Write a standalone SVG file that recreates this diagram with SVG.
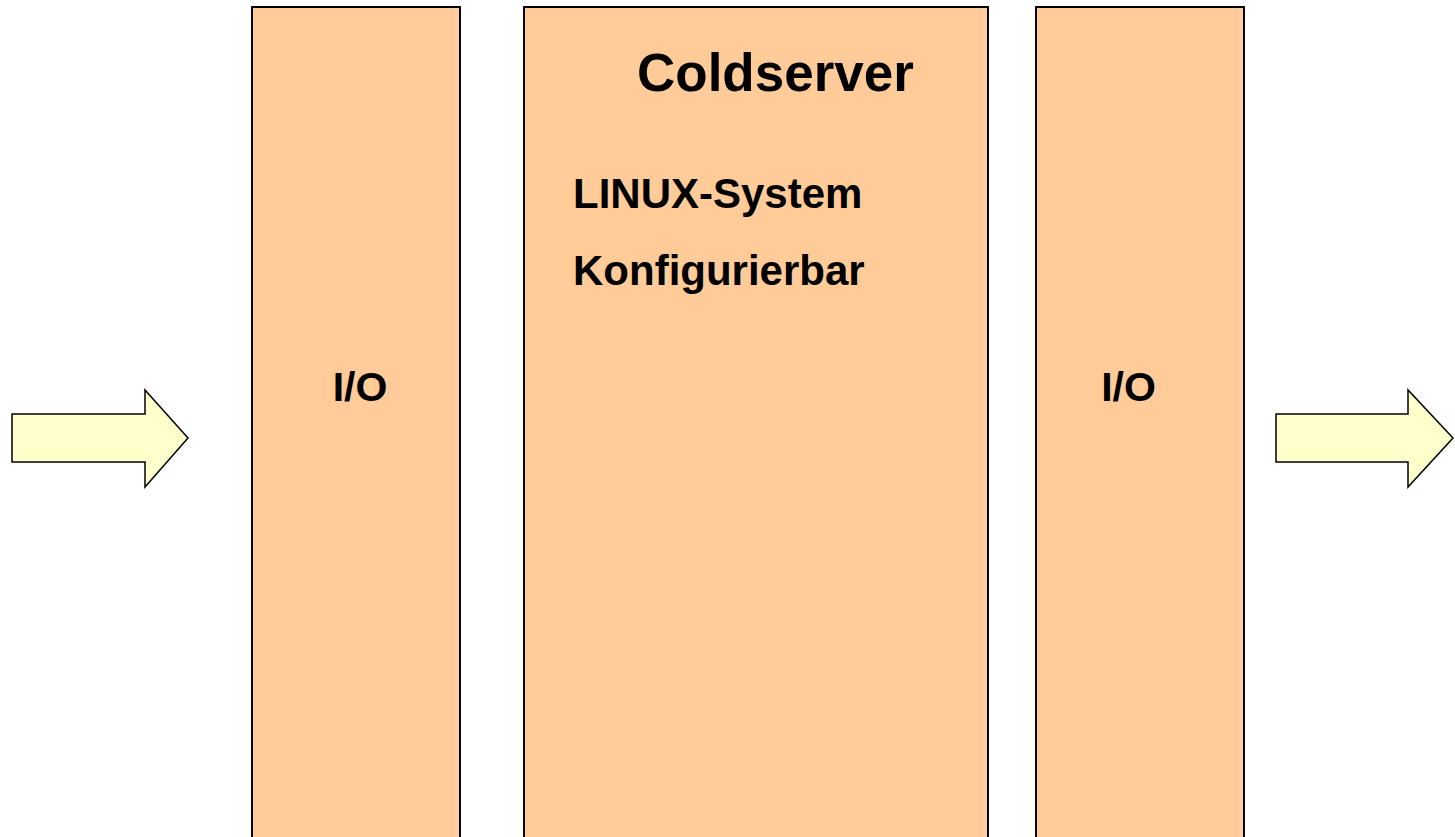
<svg xmlns="http://www.w3.org/2000/svg" width="1455" height="837" viewBox="0 0 1455 837">
<style>
.box{fill:#FFCC99;stroke:#000;stroke-width:2}
.arrow{fill:#FFFFCC;stroke:#000;stroke-width:1.5;stroke-linejoin:miter}
text{font-family:"Liberation Sans",Arial,sans-serif;font-weight:bold;fill:#000}
</style>
<rect width="1455" height="837" fill="#fff"/>
<g id="io-left">
<rect class="box" x="252" y="7" width="208" height="840"/>
<text x="360" y="401" font-size="41" text-anchor="middle">I/O</text>
</g>
<g id="coldserver">
<rect class="box" x="524" y="7" width="464" height="840"/>
<text x="637" y="91" font-size="53">Coldserver</text>
<text x="573" y="208" font-size="42">LINUX-System</text>
<text x="573" y="285" font-size="42">Konfigurierbar</text>
</g>
<g id="io-right">
<rect class="box" x="1036" y="7" width="208" height="840"/>
<text x="1128.5" y="401" font-size="41" text-anchor="middle">I/O</text>
</g>
<g id="connectors">
<polygon class="arrow" points="12,414 145,414 145,390 188,438 145,487 145,462 12,462"/>
<polygon class="arrow" points="1276,414 1408,414 1408,390 1453,438 1408,487 1408,462 1276,462"/>
</g>
</svg>
